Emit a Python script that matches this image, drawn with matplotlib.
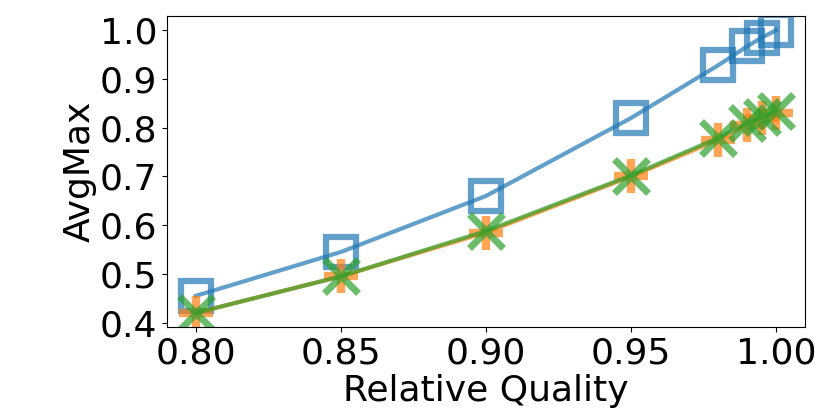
import matplotlib
matplotlib.use("Agg")
import matplotlib.pyplot as plt

# valores
calidad = [0.80, 0.85, 0.90, 0.95, 0.98, 0.99, 0.995, 1.00]
serie_azul = [0.455, 0.545, 0.660, 0.820, 0.928, 0.967, 0.985, 1.000]
serie_naranja = [0.420, 0.495, 0.585, 0.700, 0.775, 0.805, 0.820, 0.830]
serie_verde = [0.420, 0.495, 0.588, 0.702, 0.779, 0.810, 0.822, 0.835]

AZUL = "#1f77b4"
NARANJA = "#ff7f0e"
VERDE = "#2ca02c"


def main():
    plt.rcParams["font.size"] = 26
    fig = plt.figure(figsize=(8.3, 4.15), dpi=100)
    ax = fig.add_axes([0.201, 0.212, 0.769, 0.749])

    ax.plot(calidad, serie_azul, color=AZUL, alpha=0.7, linewidth=3,
            marker="s", markersize=22, markerfacecolor="none",
            markeredgewidth=4.5)
    ax.plot(calidad, serie_naranja, color=NARANJA, alpha=0.7, linewidth=3,
            marker="+", markersize=24, markeredgewidth=6)
    ax.plot(calidad, serie_verde, color=VERDE, alpha=0.7, linewidth=3,
            marker="x", markersize=24, markeredgewidth=5)

    ax.set_xticks([0.80, 0.85, 0.90, 0.95, 1.00])
    ax.set_yticks([0.4, 0.5, 0.6, 0.7, 0.8, 0.9, 1.0])
    ax.set_xlabel("Relative Quality", labelpad=2)
    ax.set_ylabel("AvgMax", labelpad=2)

    fig.savefig("out.png", dpi=100)


if __name__ == "__main__":
    main()
